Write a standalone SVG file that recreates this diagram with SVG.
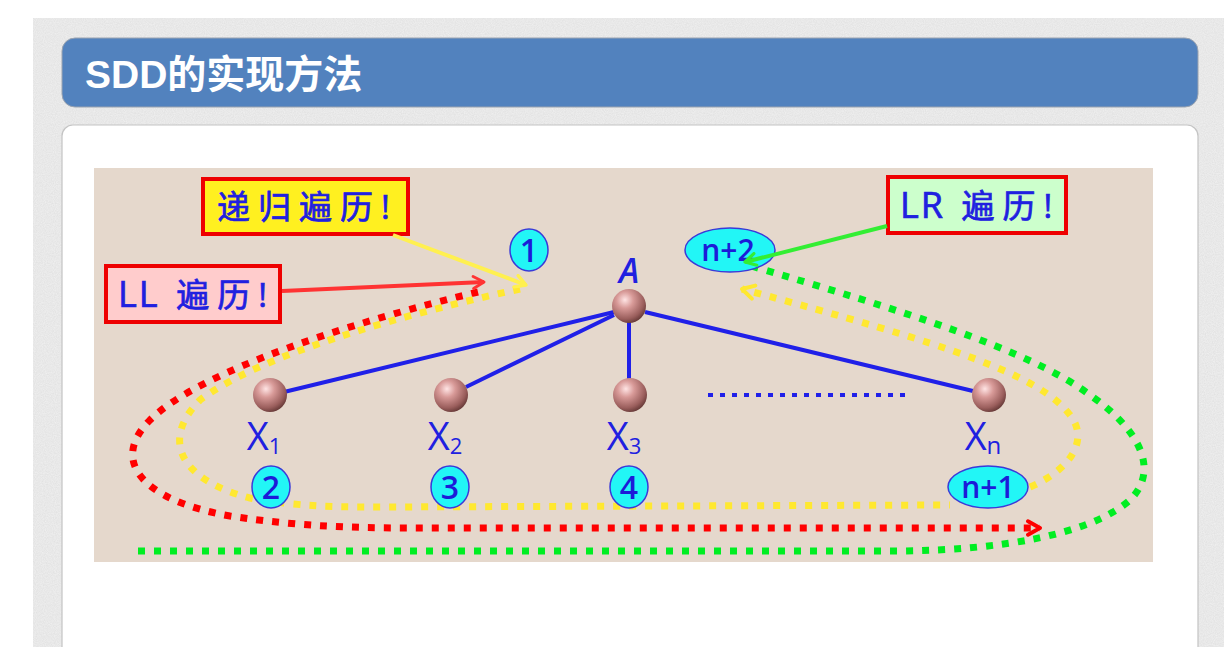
<svg xmlns="http://www.w3.org/2000/svg" width="1224" height="647" viewBox="0 0 1224 647">
<defs>
<filter id="grain" x="0" y="0" width="100%" height="100%">
<feTurbulence type="fractalNoise" baseFrequency="0.9" numOctaves="2" seed="3" result="n"/>
<feColorMatrix in="n" type="matrix" values="0 0 0 0 0.86  0 0 0 0 0.86  0 0 0 0 0.86  0 0 0 -1.4 1.2" result="c"/>
<feComposite in="c" in2="SourceGraphic" operator="in"/>
</filter>
<radialGradient id="ball" cx="0.38" cy="0.32" r="0.7">
<stop offset="0" stop-color="#FFE4E4"/>
<stop offset="0.35" stop-color="#D89A98"/>
<stop offset="0.8" stop-color="#9A5E5C"/>
<stop offset="1" stop-color="#6A3C3A"/>
</radialGradient>
<marker id="arR" viewBox="0 0 12 12" refX="10" refY="6" markerWidth="16" markerHeight="16" markerUnits="userSpaceOnUse" orient="auto">
<path d="M2 1.5 L10 6 L2 10.5" fill="none" stroke="#FF3333" stroke-width="2.2" stroke-linecap="round" stroke-linejoin="round"/>
</marker>
<marker id="arRd" viewBox="0 0 12 12" refX="10" refY="6" markerWidth="18" markerHeight="18" markerUnits="userSpaceOnUse" orient="auto">
<path d="M2 1.5 L10 6 L2 10.5" fill="none" stroke="#FF0000" stroke-width="2.6" stroke-linecap="round" stroke-linejoin="round"/>
</marker>
<marker id="arY" viewBox="0 0 12 12" refX="10" refY="6" markerWidth="16" markerHeight="16" markerUnits="userSpaceOnUse" orient="auto">
<path d="M2 1.5 L10 6 L2 10.5" fill="none" stroke="#FFF050" stroke-width="2.6" stroke-linecap="round" stroke-linejoin="round"/>
</marker>
<marker id="arY2" viewBox="0 0 12 12" refX="10" refY="6" markerWidth="18" markerHeight="18" markerUnits="userSpaceOnUse" orient="auto">
<path d="M2 1.5 L10 6 L2 10.5" fill="none" stroke="#FFE830" stroke-width="2.6" stroke-linecap="round" stroke-linejoin="round"/>
</marker>
<marker id="arG" viewBox="0 0 12 12" refX="10" refY="6" markerWidth="16" markerHeight="16" markerUnits="userSpaceOnUse" orient="auto">
<path d="M2 1.5 L10 6 L2 10.5" fill="none" stroke="#33EE33" stroke-width="2.4" stroke-linecap="round" stroke-linejoin="round"/>
</marker>
</defs>
<style>
.title{font-family:"Liberation Sans","Noto Sans CJK SC",sans-serif;font-weight:bold;font-size:39px;fill:#FFFFFF}
.lbl{font-family:"Open Sans","Noto Sans CJK SC",sans-serif;fill:#2020E0}
.nlbl{font-family:"Open Sans","Noto Sans CJK SC",sans-serif;fill:#1C1CD8;font-weight:600}
.call{font-family:"Open Sans","Noto Sans CJK SC",sans-serif;fill:#2020E0;stroke:#2020E0;stroke-width:0.7;font-size:33px;letter-spacing:8px}
.lat{letter-spacing:2px;font-size:36px}
.box{stroke:#EE0000;stroke-width:4}
.num{fill:#22F6F6;stroke:#3A3AD8;stroke-width:1.5}
.ball{fill:url(#ball)}
.edge{stroke:#2020E8;stroke-width:4;fill:none}
.dot{fill:none;stroke-width:7;stroke-dasharray:7 9}
</style>

<rect x="0" y="0" width="1224" height="647" fill="#FFFFFF"/>
<rect x="33" y="18" width="1191" height="629" fill="#E2E2E2"/>
<rect x="33" y="18" width="1191" height="629" fill="#E2E2E2" filter="url(#grain)"/>

<g id="title">
<rect x="62" y="38" width="1136" height="69" rx="13" fill="#5282BE" stroke="#9AA3B0" stroke-width="1"/>
<text class="title" x="85" y="88">SDD的实现方法</text>
</g>

<rect x="62" y="125" width="1136" height="540" rx="11" fill="#FFFFFF" stroke="#C4C4C4" stroke-width="1.2"/>
<rect x="94" y="168" width="1059" height="394" fill="#E5D8CC"/>

<g id="connectors">
<line class="edge" x1="614" y1="312" x2="284" y2="392"/>
<line class="edge" x1="614" y1="315" x2="466" y2="387"/>
<line class="edge" x1="629" y1="322" x2="629" y2="379"/>
<line class="edge" x1="645" y1="312" x2="973" y2="391"/>
<line x1="708" y1="395" x2="910" y2="395" stroke="#2020E8" stroke-width="4" stroke-dasharray="5 7"/>

<path class="dot" stroke="#FF0000" d="M478 292 C 360 320, 200 370, 150 420 C 110 460, 140 500, 230 516 C 300 527, 360 528, 420 528 L 1040 528" marker-end="url(#arRd)"/>
<path class="dot" stroke="#FFE830" d="M520 289 C 400 315, 260 355, 200 400 C 160 440, 180 480, 250 498 C 300 507, 340 507, 380 507 L 950 505"/>
<path class="dot" stroke="#FFE830" d="M1030 487 C 1070 470, 1090 440, 1070 415 C 1040 375, 950 345, 742 289" marker-end="url(#arY2)"/>
<path class="dot" stroke="#00EE22" d="M138 551 L 900 551 C 1000 550, 1090 535, 1130 500 C 1160 470, 1140 430, 1090 395 C 1030 350, 900 310, 748 265"/>
</g>

<g id="node-A">
<circle class="ball" cx="629" cy="306" r="17"/>
<text class="lbl" x="629" y="283" font-size="34" font-style="italic" font-weight="600" text-anchor="middle">A</text>
</g>
<g id="node-X1">
<circle class="ball" cx="270" cy="395" r="17"/>
<text class="lbl" x="264" y="450" font-size="38" text-anchor="middle">X<tspan font-size="22" dy="4">1</tspan></text>
</g>
<g id="node-X2">
<circle class="ball" cx="451" cy="395" r="17"/>
<text class="lbl" x="445" y="450" font-size="38" text-anchor="middle">X<tspan font-size="22" dy="4">2</tspan></text>
</g>
<g id="node-X3">
<circle class="ball" cx="630" cy="395" r="17"/>
<text class="lbl" x="624" y="450" font-size="38" text-anchor="middle">X<tspan font-size="22" dy="4">3</tspan></text>
</g>
<g id="node-Xn">
<circle class="ball" cx="989" cy="395" r="17"/>
<text class="lbl" x="983" y="450" font-size="38" text-anchor="middle">X<tspan font-size="24" dy="4">n</tspan></text>
</g>

<g id="num-1">
<ellipse class="num" cx="529" cy="250" rx="19" ry="21"/>
<text class="nlbl" x="529" y="262" font-size="32" text-anchor="middle">1</text>
</g>
<g id="num-n2">
<ellipse class="num" cx="730" cy="250" rx="45" ry="22"/>
<text class="nlbl" x="728" y="261" font-size="30" text-anchor="middle">n+2</text>
</g>
<g id="num-2">
<ellipse class="num" cx="271" cy="487" rx="19" ry="21"/>
<text class="nlbl" x="271" y="499" font-size="32" text-anchor="middle">2</text>
</g>
<g id="num-3">
<ellipse class="num" cx="450" cy="487" rx="19" ry="21"/>
<text class="nlbl" x="450" y="499" font-size="32" text-anchor="middle">3</text>
</g>
<g id="num-4">
<ellipse class="num" cx="629" cy="487" rx="19" ry="21"/>
<text class="nlbl" x="629" y="499" font-size="32" text-anchor="middle">4</text>
</g>
<g id="num-n1">
<ellipse class="num" cx="988" cy="487" rx="40" ry="21"/>
<text class="nlbl" x="988" y="498" font-size="30" text-anchor="middle">n+1</text>
</g>

<g id="callout-recursive">
<rect class="box" x="203" y="179" width="205" height="55" fill="#FFF020"/>
<text class="call" x="217" y="219">递归遍历!</text>
</g>
<g id="callout-LL">
<rect class="box" x="106" y="266" width="174" height="56" fill="#FFCCCC"/>
<text class="call" x="118" y="307"><tspan class="lat">LL</tspan> 遍历!</text>
</g>
<g id="callout-LR">
<rect class="box" x="888" y="177" width="178" height="56" fill="#CCFFCC"/>
<text class="call" x="900" y="218"><tspan class="lat">LR</tspan> 遍历!</text>
</g>

<g id="callout-connectors">
<line x1="393" y1="235" x2="526" y2="285" stroke="#FFF050" stroke-width="4" marker-end="url(#arY)"/>
<line x1="282" y1="291" x2="484" y2="282" stroke="#FF3333" stroke-width="4" marker-end="url(#arR)"/>
<line x1="887" y1="226" x2="745" y2="262" stroke="#33EE33" stroke-width="4" marker-end="url(#arG)"/>
</g>
</svg>
